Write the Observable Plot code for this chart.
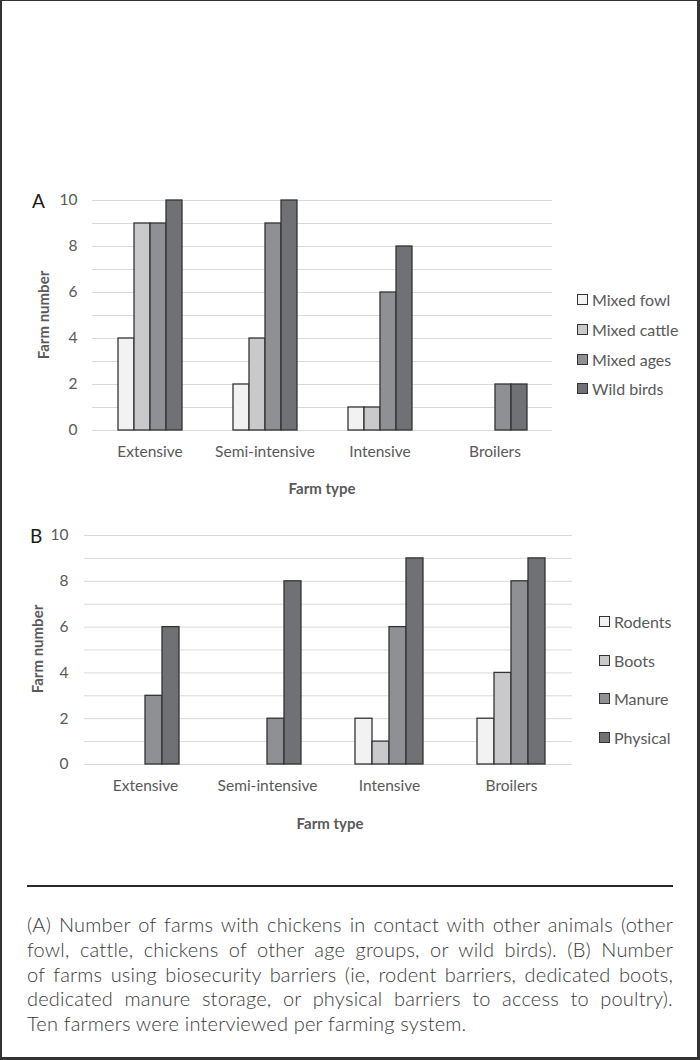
<!DOCTYPE html>
<html>
<head>
<meta charset="utf-8">
<script src="https://cdn.jsdelivr.net/npm/d3@7"></script>
<script src="https://cdn.jsdelivr.net/npm/@observablehq/plot@0.6"></script>
<style>
  html, body { margin: 0; padding: 0; background: #fff; }
  #page { position: relative; width: 700px; height: 1060px; overflow: hidden; font-family: Lato, "Open Sans", sans-serif; }
  #frame { position: absolute; left: 0; top: 0; width: 700px; height: 1060px; box-sizing: border-box;
           border-left: 2px solid #333; border-top: 1px solid #333; border-right: 3px solid #333; border-bottom: 3px solid #333; pointer-events: none; }
  .abs { position: absolute; }
  .panel-letter { font-size: 19px; color: #1a1a1a; line-height: 1; }
  .axis-title { font-size: 15px; font-weight: bold; color: #595959; white-space: nowrap; line-height: 1; }
  .legend-item { position: absolute; height: 20px; display: flex; align-items: center; font-size: 16px; color: #595959; white-space: nowrap; }
  .legend-item .sw { width: 9px; height: 9px; border: 1px solid #333; margin-right: 4px; }
  #rule { position: absolute; left: 27px; top: 885px; width: 646px; height: 0; border-top: 2px solid #2a2a2a; }
  #caption { position: absolute; left: 27px; top: 912px; width: 646px; font-family: Lato, sans-serif; font-weight: 300; font-size: 20px; letter-spacing: 0.2px; color: #3a3a3a; }
  #caption .ln { height: 24.75px; line-height: 24.75px; text-align: justify; text-align-last: justify; white-space: nowrap; }
  #caption .ln.last { text-align-last: left; }
</style>
</head>
<body>
<div id="page"></div>
<script>
// ---- Data ----
const categories = ["Extensive", "Semi-intensive", "Intensive", "Broilers"];

const seriesA = ["Mixed fowl", "Mixed cattle", "Mixed ages", "Wild birds"];
const mixedFowl   = [4, 2, 1, 0];
const mixedCattle = [9, 4, 1, 0];
const mixedAges   = [9, 9, 6, 2];
const wildBirds   = [10, 10, 8, 2];

const seriesB = ["Rodents", "Boots", "Manure", "Physical"];
const rodents  = [0, 0, 2, 2];
const boots    = [0, 0, 1, 4];
const manure   = [3, 2, 6, 8];
const physical = [6, 8, 9, 9];

const yTicks = [0, 2, 4, 6, 8, 10];
const gridValues = [0, 1, 2, 3, 4, 5, 6, 7, 8, 9, 10];
const fills = ["#f2f2f2", "#c9c9cb", "#8f9094", "#707175"];

const captionLines = [
  "(A) Number of farms with chickens in contact with other animals (other",
  "fowl, cattle, chickens of other age groups, or wild birds). (B) Number",
  "of farms using biosecurity barriers (ie, rodent barriers, dedicated boots,",
  "dedicated manure storage, or physical barriers to access to poultry).",
  "Ten farmers were interviewed per farming system."
];

// ---- Build tidy tables ----
function tidy(series, valueArrays) {
  const rows = [];
  series.forEach((s, si) => {
    categories.forEach((c, ci) => rows.push({type: c, series: s, value: valueArrays[si][ci]}));
  });
  return rows;
}
const dataA = tidy(seriesA, [mixedFowl, mixedCattle, mixedAges, wildBirds]);
const dataB = tidy(seriesB, [rodents, boots, manure, physical]);

const page = document.getElementById("page");

function makeChart(data, series, opt) {
  const svg = Plot.plot({
    width: 700,
    height: opt.height,
    marginLeft: opt.left,
    marginRight: opt.right,
    marginTop: opt.top,
    marginBottom: opt.bottom,
    style: {fontFamily: "Lato, 'Open Sans', sans-serif", fontSize: "15.5px", color: "#595959", background: "transparent", overflow: "visible"},
    fx: {domain: categories, padding: 0, axis: "bottom", tickSize: 0, tickPadding: opt.fxPad, label: null},
    x: {domain: series, paddingInner: 0, paddingOuter: opt.outer, axis: null},
    y: {domain: [0, 10], ticks: yTicks, tickSize: 0, tickPadding: opt.yPad, label: null},
    color: {domain: series, range: fills},
    marks: [
      Plot.ruleY(gridValues, {stroke: "#d9d9d9", strokeWidth: 1}),
      Plot.barY(data.filter(d => d.value > 0), {fx: "type", x: "series", y: "value", fill: "series", stroke: "#333", strokeWidth: 1.3})
    ]
  });
  svg.style.position = "absolute";
  svg.style.left = "0px";
  svg.style.top = opt.svgTop + "px";
  page.appendChild(svg);
}

makeChart(dataA, seriesA, {height: 340, svgTop: 170, left: 90, right: 147, top: 30, bottom: 80, outer: 1.47, fxPad: 15, yPad: 15});
makeChart(dataB, seriesB, {height: 330, svgTop: 505, left: 83, right: 128, top: 30, bottom: 71, outer: 1.49, fxPad: 15, yPad: 16});

// ---- Text elements ----
function addDiv(cls, text, css) {
  const d = document.createElement("div");
  d.className = cls;
  d.textContent = text;
  Object.assign(d.style, css);
  page.appendChild(d);
  return d;
}
addDiv("abs panel-letter", "A", {left: "32px", top: "191px"});
addDiv("abs panel-letter", "B", {left: "30px", top: "526px"});

addDiv("abs axis-title", "Farm type", {left: "322px", top: "488px", transform: "translate(-50%,-50%)"});
addDiv("abs axis-title", "Farm type", {left: "330px", top: "823px", transform: "translate(-50%,-50%)"});
addDiv("abs axis-title", "Farm number", {left: "43px", top: "315px", transform: "translate(-50%,-50%) rotate(-90deg)"});
addDiv("abs axis-title", "Farm number", {left: "37px", top: "649px", transform: "translate(-50%,-50%) rotate(-90deg)"});

function legend(series, x, ys) {
  series.forEach((s, i) => {
    const item = document.createElement("div");
    item.className = "legend-item";
    item.style.left = x + "px";
    item.style.top = (ys[i] - 10) + "px";
    const sw = document.createElement("span");
    sw.className = "sw";
    sw.style.background = fills[i];
    const t = document.createElement("span");
    t.textContent = s;
    item.appendChild(sw);
    item.appendChild(t);
    page.appendChild(item);
  });
}
legend(seriesA, 577, [299, 329, 359, 388]);
legend(seriesB, 599, [621, 660, 698, 737]);

const rule = document.createElement("div");
rule.id = "rule";
page.appendChild(rule);

const cap = document.createElement("div");
cap.id = "caption";
captionLines.forEach((l, i) => {
  const d = document.createElement("div");
  d.className = "ln" + (i === captionLines.length - 1 ? " last" : "");
  d.textContent = l;
  cap.appendChild(d);
});
page.appendChild(cap);

const frame = document.createElement("div");
frame.id = "frame";
page.appendChild(frame);
</script>
</body>
</html>
